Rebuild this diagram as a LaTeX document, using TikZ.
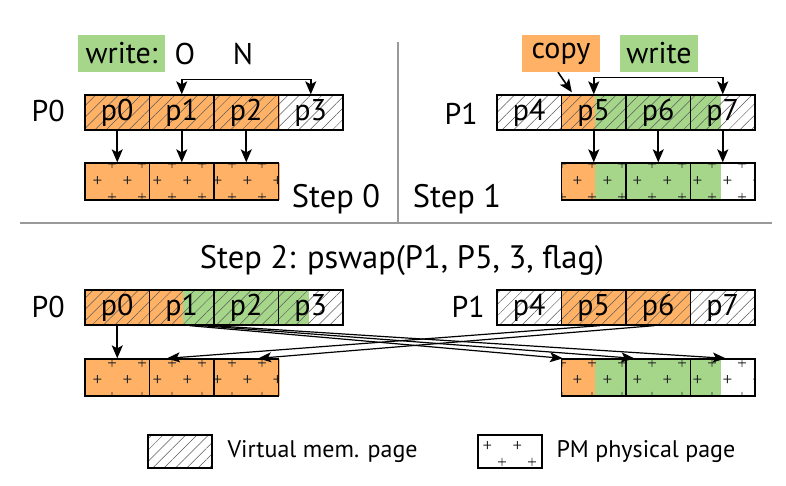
\documentclass[tikz,border=0pt]{standalone}
\usepackage{fontspec}
\setmainfont{PT Sans}
\usetikzlibrary{arrows.meta,patterns.meta}

\definecolor{cporange}{RGB}{255,178,102}
\definecolor{cpgreen}{RGB}{165,214,138}
\newcommand\lblfont{\fontsize{30}{34}\selectfont}
\newcommand\stepfont{\fontsize{32.5}{37}\selectfont}
\newcommand\legfont{\fontsize{24}{28}\selectfont}

\pgfdeclarepattern{
  name=pmplus,
  type=uncolored,
  bottom left={\pgfpoint{0pt}{0pt}},
  top right={\pgfpoint{30pt}{33pt}},
  tile size={\pgfpoint{30pt}{33pt}},
  code={
    \pgfsetlinewidth{0.9pt}
    \pgfpathmoveto{\pgfpoint{3.5pt}{8pt}}\pgfpathlineto{\pgfpoint{11.5pt}{8pt}}
    \pgfpathmoveto{\pgfpoint{7.5pt}{4pt}}\pgfpathlineto{\pgfpoint{7.5pt}{12pt}}
    \pgfpathmoveto{\pgfpoint{18.5pt}{24.5pt}}\pgfpathlineto{\pgfpoint{26.5pt}{24.5pt}}
    \pgfpathmoveto{\pgfpoint{22.5pt}{20.5pt}}\pgfpathlineto{\pgfpoint{22.5pt}{28.5pt}}
    \pgfusepath{stroke}
  }
}

\tikzstyle{vpage}=[rectangle,draw=black,line width=1.3pt,minimum width=64.5pt,
minimum height=35pt,inner sep=0pt,font=\lblfont,
preaction={pattern={Lines[angle=45,distance=8pt,line width=0.5pt]},pattern color=black!65}]
\tikzstyle{ppage}=[rectangle,draw=black,line width=1.3pt,minimum width=64.5pt,
minimum height=37pt,inner sep=0pt,preaction={pattern=pmplus,pattern color=black!85}]
\tikzstyle{tag}=[rectangle,minimum height=37pt,inner sep=0pt,font=\lblfont]
\tikzstyle{arrow}=[line width=1.6pt,-{Stealth[length=13pt,width=11pt,inset=3pt]}]
\tikzstyle{twoway}=[line width=1.6pt,{Stealth[length=13pt,width=11pt,inset=3pt]}-{Stealth[length=13pt,width=11pt,inset=3pt]}]
\tikzstyle{swap}=[line width=1.2pt,-{Stealth[length=13pt,width=10pt,inset=3pt]}]
\tikzstyle{sepline}=[line width=1.8pt,draw=black!40]

\begin{document}
\begin{tikzpicture}[x=1pt,y=-1pt,node distance=64.5pt]
    \useasboundingbox (0,0) rectangle (786,485);

    % colour under the pages
    \fill[cporange] (85,95) rectangle (280,130);
    \fill[cporange] (85,163) rectangle (280,200);
    \fill[cporange] (561,95) rectangle (595,130);
    \fill[cpgreen] (595,95) rectangle (721,130);
    \fill[cporange] (561,163) rectangle (595,200);
    \fill[cpgreen] (595,163) rectangle (721,200);
    \fill[cporange] (85,290) rectangle (183,325);
    \fill[cpgreen] (183,290) rectangle (309,325);
    \fill[cporange] (85,359) rectangle (280,396);
    \fill[cporange] (561,290) rectangle (690,325);
    \fill[cporange] (561,359) rectangle (595,396);
    \fill[cpgreen] (595,359) rectangle (721,396);

    % step 0
    \node (p0) [vpage] at (117.25,112.5) {p0};
    \node (p1) [vpage,right of=p0] {p1};
    \node (p2) [vpage,right of=p1] {p2};
    \node (p3) [vpage,right of=p2] {p3};
    \node (m0) [ppage] at (117.25,181.5) {};
    \node (m1) [ppage,right of=m0] {};
    \node (m2) [ppage,right of=m1] {};
    \node (lblP0) [anchor=base west,font=\lblfont] at (28,121) {P0};
    \node (wr0) [tag,fill=cpgreen,minimum width=87pt] at (121.5,53.5) {write:};
    \node (old) [anchor=base,font=\lblfont] at (185,64) {O};
    \node (new) [anchor=base,font=\lblfont] at (243,64) {N};
    \node (step0) [anchor=base,font=\stepfont] at (336,207) {Step 0};

    \draw [twoway] (p1.north) -- ++(0,-15) -| (p3.north);
    \draw [arrow] (p0.south) -- (m0.north);
    \draw [arrow] (p1.south) -- (m1.north);
    \draw [arrow] (p2.south) -- (m2.north);

    % step 1
    \node (p4) [vpage] at (529.25,112.5) {p4};
    \node (p5) [vpage,right of=p4] {p5};
    \node (p6) [vpage,right of=p5] {p6};
    \node (p7) [vpage,right of=p6] {p7};
    \node (m5) [ppage] at (593.75,181.5) {};
    \node (m6) [ppage,right of=m5] {};
    \node (m7) [ppage,right of=m6] {};
    \node (lblP1) [anchor=base west,font=\lblfont] at (441,124) {P1};
    \node (copy) [tag,fill=cporange,minimum width=78pt] at (561,53.5) {copy};
    \node (wr1) [tag,fill=cpgreen,minimum width=78pt] at (659,53.5) {write};
    \node (step1) [anchor=base,font=\stepfont] at (457,207) {Step 1};

    \draw [arrow] ([xshift=-3pt]copy.south) -- ([xshift=11pt,yshift=2pt]p5.north west);
    \draw [twoway] (p5.north) -- ++(0,-17) -| (p7.north);
    \draw [arrow] (p5.south) -- (m5.north);
    \draw [arrow] (p6.south) -- (m6.north);
    \draw [arrow] (p7.south) -- (m7.north);

    \draw [sepline] (398,42) -- (398,223);
    \draw [sepline] (20,223) -- (772,223);

    % step 2
    \node (step2) [anchor=base,font=\stepfont] at (402,268) {Step 2: pswap(P1, P5, 3, flag)};
    \node (q0) [vpage] at (117.25,307.5) {p0};
    \node (q1) [vpage,right of=q0] {p1};
    \node (q2) [vpage,right of=q1] {p2};
    \node (q3) [vpage,right of=q2] {p3};
    \node (n0) [ppage] at (117.25,377.5) {};
    \node (n1) [ppage,right of=n0] {};
    \node (n2) [ppage,right of=n1] {};
    \node (lblQ0) [anchor=base west,font=\lblfont] at (28,317) {P0};
    \node (q4) [vpage] at (529.25,307.5) {p4};
    \node (q5) [vpage,right of=q4] {p5};
    \node (q6) [vpage,right of=q5] {p6};
    \node (q7) [vpage,right of=q6] {p7};
    \node (n5) [ppage] at (593.75,377.5) {};
    \node (n6) [ppage,right of=n5] {};
    \node (n7) [ppage,right of=n6] {};
    \node (lblQ1) [anchor=base west,font=\lblfont] at (448,317) {P1};

    \draw [arrow] (q0.south) -- (n0.north);
    \draw [swap] ([xshift=8pt]q1.south) -- ([xshift=2pt]n5.north west);
    \draw [swap] ([xshift=20pt]q1.south) -- ([xshift=9pt]n6.north west);
    \draw [swap] ([xshift=31pt]q1.south) -- ([xshift=3pt]n7.north);
    \draw [swap] ([xshift=6pt]q5.south) -- ([xshift=18pt]n1.north west);
    \draw [swap] ([xshift=-4pt]q6.south) -- ([xshift=12pt]n2.north);

    % legend
    \node (legV) [vpage,minimum width=64pt,minimum height=33pt,line width=1.1pt] at (180,451.5) {};
    \node (legVt) [anchor=west,font=\legfont] at (224,452) {Virtual mem. page};
    \node (legP) [ppage,minimum width=64pt,minimum height=33pt,line width=1.1pt] at (510,451.5) {};
    \node (legPt) [anchor=west,font=\legfont] at (553,452) {PM physical page};

\end{tikzpicture}
\end{document}
